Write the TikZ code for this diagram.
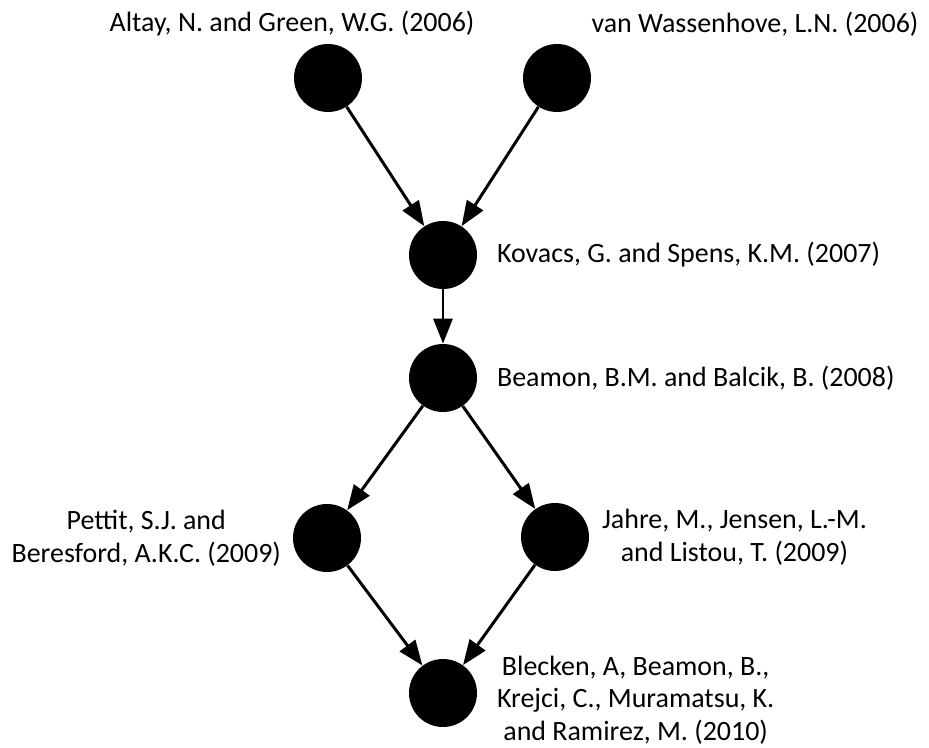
\documentclass[tikz,border=0pt]{standalone}
\usepackage{fontspec}
\setmainfont{Carlito}
\usepackage{tikz}
\usetikzlibrary{arrows.meta, positioning}

\begin{document}
\begin{tikzpicture}[node distance=0.3cm]
  \tikzstyle{study} = [circle, fill=black, inner sep=0pt, minimum size=1.36cm]
  \tikzstyle{refnote} = [align=center, font=\fontsize{15.9}{18.6}\selectfont]
  \tikzstyle{arrow} = [line width=1.7pt, -{Triangle[length=0.5cm, width=0.38cm]}]

  \useasboundingbox (0,0) rectangle (18.58,14.94);

  \node [study] (altay) at (6.56,13.38) {};
  \node [study] (wassen) at (11.14,13.38) {};
  \node [study] (kovacs) at (8.86,9.84) {};
  \node [study] (beamon) at (8.86,7.38) {};
  \node [study] (pettit) at (6.54,4.18) {};
  \node [study] (jahre) at (11.10,4.20) {};
  \node [study] (blecken) at (8.86,1.08) {};

  \node [refnote, above=0.02cm of altay, xshift=-0.72cm] (altaytxt) {Altay, N. and Green, W.G. (2006)};
  \node [refnote, above=0.02cm of wassen, xshift=3.96cm] (wassentxt) {van Wassenhove, L.N. (2006)};
  \node [refnote, right=0.27cm of kovacs] (kovacstxt) {Kovacs, G. and Spens, K.M. (2007)};
  \node [refnote, right=0.27cm of beamon] (beamontxt) {Beamon, B.M. and Balcik, B. (2008)};
  \node [refnote, left=0.11cm of pettit] (pettittxt) {Pettit, S.J. and\\ Beresford, A.K.C. (2009)};
  \node [refnote, right=0.13cm of jahre] (jahretxt) {Jahre, M., Jensen, L.-M.\\ and Listou, T. (2009)};
  \node [refnote, right=0.27cm of blecken, yshift=-0.14cm] (bleckentxt) {Blecken, A, Beamon, B.,\\ Krejci, C., Muramatsu, K.\\ and Ramirez, M. (2010)};

  \draw [arrow] (altay) -- (kovacs);
  \draw [arrow] (wassen) -- (kovacs);
  \draw [arrow] (kovacs) -- (beamon);
  \draw [arrow] (beamon) -- (pettit);
  \draw [arrow] (beamon) -- (jahre);
  \draw [arrow] (pettit) -- (blecken);
  \draw [arrow] (jahre) -- (blecken);
\end{tikzpicture}
\end{document}
